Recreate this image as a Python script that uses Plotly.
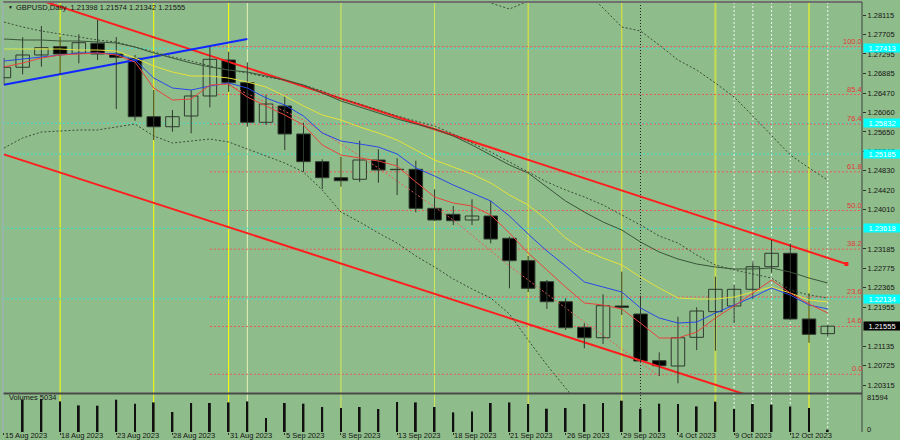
import plotly.graph_objects as go

# ---------------- data ----------------
dates = ["15 Aug 2023", "16 Aug 2023", "17 Aug 2023", "18 Aug 2023",
         "21 Aug 2023", "22 Aug 2023", "23 Aug 2023", "24 Aug 2023", "25 Aug 2023",
         "28 Aug 2023", "29 Aug 2023", "30 Aug 2023", "31 Aug 2023", "1 Sep 2023",
         "4 Sep 2023", "5 Sep 2023", "6 Sep 2023", "7 Sep 2023", "8 Sep 2023",
         "11 Sep 2023", "12 Sep 2023", "13 Sep 2023", "14 Sep 2023", "15 Sep 2023",
         "18 Sep 2023", "19 Sep 2023", "20 Sep 2023", "21 Sep 2023", "22 Sep 2023",
         "25 Sep 2023", "26 Sep 2023", "27 Sep 2023", "28 Sep 2023", "29 Sep 2023",
         "2 Oct 2023", "3 Oct 2023", "4 Oct 2023", "5 Oct 2023", "6 Oct 2023",
         "9 Oct 2023", "10 Oct 2023", "11 Oct 2023", "12 Oct 2023", "13 Oct 2023",
         "16 Oct 2023"]

open_ = [1.26793, 1.27013, 1.27272, 1.27447, 1.27308, 1.27518, 1.27293, 1.27202, 1.25971,
         1.25760, 1.25986, 1.26408, 1.27166, 1.26688, 1.25853, 1.26197, 1.25607, 1.25023,
         1.24685, 1.24652, 1.25058, 1.24862, 1.24862, 1.24040, 1.23914, 1.23794, 1.23878,
         1.23408, 1.22936, 1.22493, 1.22071, 1.21532, 1.21312, 1.21981, 1.21812, 1.20828,
         1.20716, 1.21321, 1.21861, 1.21981, 1.22333, 1.22809, 1.23092, 1.21707, 1.21398]
high = [1.27209, 1.27645, 1.27883, 1.27658, 1.27708, 1.28010, 1.27651, 1.27272, 1.26534,
        1.26112, 1.26534, 1.27445, 1.27341, 1.27118, 1.26429, 1.26393, 1.25845, 1.25073,
        1.25128, 1.25465, 1.25284, 1.25094, 1.25044, 1.24441, 1.24089, 1.24230, 1.24200,
        1.23442, 1.23035, 1.22529, 1.22143, 1.21616, 1.22227, 1.22704, 1.22198, 1.21005,
        1.21755, 1.21953, 1.22598, 1.22423, 1.22915, 1.23372, 1.23302, 1.22248, 1.21574]
low = [1.26639, 1.26865, 1.27025, 1.26871, 1.27097, 1.27166, 1.26133, 1.25887, 1.25480,
       1.25655, 1.25621, 1.26169, 1.26498, 1.25760, 1.25796, 1.25269, 1.24812, 1.24447,
       1.24496, 1.24595, 1.24580, 1.24321, 1.23956, 1.23772, 1.23688, 1.23688, 1.23302,
       1.22354, 1.22276, 1.21917, 1.21475, 1.21089, 1.21180, 1.21791, 1.20794, 1.20505,
       1.20351, 1.21053, 1.21038, 1.21616, 1.22122, 1.22683, 1.21686, 1.21207, 1.21342]
close = [1.27013, 1.27272, 1.27426, 1.27293, 1.27531, 1.27293, 1.27223, 1.25971, 1.25760,
         1.25971, 1.26408, 1.27181, 1.26688, 1.25853, 1.26239, 1.25607, 1.25023, 1.24685,
         1.24622, 1.25058, 1.24848, 1.24856, 1.24040, 1.23794, 1.23779, 1.23878, 1.23393,
         1.22936, 1.22354, 1.22071, 1.21523, 1.21312, 1.21987, 1.21953, 1.20821, 1.20722,
         1.21312, 1.21875, 1.22333, 1.22333, 1.22809, 1.23092, 1.21707, 1.21384, 1.21555]
volume = [None, 71222, 72765, 67473, 58653, 57992, 71222, 62402, 65268, 44100, 63945,
          63945, 65268, 67473, 30870, 63945, 62402, 55125, 52920, 55125, 50715, 66150,
          65268, 55125, 43218, 45423, 63945, 65268, 61740, 51377, 52920, 61740, 63945,
          69017, 51377, 62402, 61740, 56448, 66812, 50715, 61740, 60197, 56448, 52920, 5034]

ma_red = [1.27019, 1.27103, 1.27208, 1.27272, 1.27293, 1.27314, 1.27272, 1.27124, 1.26576,
          1.26323, 1.26344, 1.26639, 1.26660, 1.26386, 1.26197, 1.26007, 1.25796, 1.25375,
          1.25164, 1.25101, 1.25037, 1.24932, 1.24595, 1.24279, 1.24152, 1.24089, 1.23899,
          1.23519, 1.23098, 1.22740, 1.22381, 1.22044, 1.22002, 1.21918, 1.21622, 1.21306,
          1.21306, 1.21432, 1.21728, 1.21981, 1.22255, 1.22529, 1.22255, 1.22023, 1.21833]
ma_blue = [1.27145, 1.27187, 1.27229, 1.27272, 1.27314, 1.27314, 1.27293, 1.27166, 1.26787,
           1.26576, 1.26534, 1.26618, 1.26681, 1.26576, 1.26365, 1.26218, 1.25986, 1.25628,
           1.25459, 1.25396, 1.25332, 1.25185, 1.24890, 1.24721, 1.24531, 1.24363, 1.24194,
           1.23878, 1.23498, 1.23140, 1.22824, 1.22487, 1.22381, 1.22276, 1.21939, 1.21728,
           1.21622, 1.21643, 1.21833, 1.22002, 1.22170, 1.22360, 1.22212, 1.22002, 1.21918]
ma_yellow = [1.27398, 1.27398, 1.27398, 1.27398, 1.27377, 1.27377, 1.27356, 1.27208, 1.27040,
             1.26913, 1.26829, 1.26829, 1.26787, 1.26702, 1.26597, 1.26407, 1.26197, 1.26007,
             1.25901, 1.25754, 1.25628, 1.25480, 1.25269, 1.25058, 1.24911, 1.24763, 1.24573,
             1.24321, 1.24110, 1.23793, 1.23414, 1.23161, 1.22992, 1.22845, 1.22592, 1.22360,
             1.22149, 1.22128, 1.22128, 1.22170, 1.22276, 1.22381, 1.22255, 1.22107, 1.22065]
ma_slow = [1.27609, 1.27588, 1.27588, 1.27567, 1.27567, 1.27546, 1.27525, 1.27440, 1.27314,
           1.27208, 1.27103, 1.27019, 1.26955, 1.26913, 1.26829, 1.26745, 1.26639, 1.26471,
           1.26302, 1.26175, 1.26049, 1.25923, 1.25817, 1.25712, 1.25564, 1.25375, 1.25164,
           1.24953, 1.24784, 1.24489, 1.24194, 1.23962, 1.23751, 1.23583, 1.23330, 1.23119,
           1.22971, 1.22866, 1.22803, 1.22761, 1.22761, 1.22782, 1.22697, 1.22571, 1.22465]
band_mid = [1.27967, 1.27862, 1.27778, 1.27714, 1.27651, 1.27588, 1.27546, 1.27440, 1.27335,
            1.27229, 1.27145, 1.27040, 1.26955, 1.26892, 1.26808, 1.26745, 1.26639, 1.26513,
            1.26344, 1.26239, 1.26112, 1.25986, 1.25880, 1.25775, 1.25607, 1.25417, 1.25227,
            1.25016, 1.24805, 1.24595, 1.24426, 1.24279, 1.24110, 1.23899, 1.23688, 1.23456,
            1.23308, 1.23056, 1.22845, 1.22740, 1.22655, 1.22571, 1.22318, 1.22212, 1.22149]
band_up = [None] * 24 + [1.28958, 1.28600, 1.28368, 1.28241, 1.28410, 1.28684, 1.28853,
                         1.28642, 1.28262, 1.27862, 1.27778, 1.27482, 1.27166, 1.26955,
                         1.26681, 1.26386, 1.25986, 1.25585, 1.25164, 1.24890, 1.24637]
band_low = [1.25311, 1.25522, 1.25649, 1.25670, 1.25691, 1.25691, 1.25754, 1.25817, 1.25564,
            1.25417, 1.25459, 1.25501, 1.25438, 1.25290, 1.25143, 1.24995, 1.24805, 1.24426,
            1.23962, 1.23751, 1.23519, 1.23308, 1.23035, 1.22803, 1.22550, 1.22339, 1.22149,
            1.21812, 1.21264, 1.20737, 1.20252, 1.19788, 1.19472] + [None] * 12

red_dash_x = [12, 16, 20, 24, 27, 31, 35]
red_dash_y = [1.26639, 1.25901, 1.24890, 1.23793, 1.22824, 1.21643, 1.20505]

chan_up_x, chan_up_y = [0, 45], [1.28678, 1.22866]
chan_low_x, chan_low_y = [0, 45], [1.25176, 1.19426]
blue_tl_x, blue_tl_y = [0, 13], [1.26644, 1.27609]

fib_levels = [1.27447, 1.26439, 1.25817, 1.24809, 1.23994, 1.23179, 1.22171, 1.21549, 1.20541]
fib_names = ["100.0", "85.4", "76.4", "61.8", "50.0", "38.2", "23.6", "14.6", "0.0"]
cyan_levels = [1.27413, 1.25832, 1.25185, 1.23618, 1.22134]

price_ticks = [1.28115, 1.27705, 1.27295, 1.26885, 1.26470, 1.26060, 1.25650, 1.25240,
               1.24830, 1.24420, 1.24010, 1.23185, 1.22775, 1.22365, 1.21955, 1.21135,
               1.20725, 1.20315]
vol_max = 81594

label_idx = list(range(0, 45, 3))
yellow_bars = [3, 8, 12]
olive_bars = [18, 23]
yellow2_bars = [28, 33]
green_yellow_bars = [38, 43]
pale_bars = [13]
black_dot_bars = [34]
white_dot_bars = [39, 40, 41, 42, 44]

# ---------------- figure ----------------
BG = "#8fbc8b"
FONT = "Liberation Sans, Arial, sans-serif"
TXT = "#151515"
n = len(dates)
idx = list(range(n))
XR = [-0.05, 45.83]
YR = [1.20147, 1.28389]

fig = go.Figure()

# trend lines (behind candles)
fig.add_trace(go.Scatter(x=chan_up_x, y=chan_up_y, mode="lines",
                         line=dict(color="#ff1e1e", width=2), hoverinfo="skip"))
fig.add_trace(go.Scatter(x=chan_low_x, y=chan_low_y, mode="lines",
                         line=dict(color="#ff1e1e", width=2), hoverinfo="skip"))
fig.add_trace(go.Scatter(x=blue_tl_x, y=blue_tl_y, mode="lines",
                         line=dict(color="#1028ff", width=2), hoverinfo="skip"))
fig.add_trace(go.Scatter(x=[chan_up_x[1]], y=[chan_up_y[1]], mode="markers",
                         marker=dict(symbol="square", size=4, color="#ff1e1e"), hoverinfo="skip"))
fig.add_trace(go.Scatter(x=red_dash_x, y=red_dash_y, mode="lines",
                         line=dict(color="#e85a5a", width=1, dash="2px,2px"), hoverinfo="skip"))

# wicks
wx, wy = [], []
for i in idx:
    wx += [i, i, None]
    wy += [low[i], high[i], None]
fig.add_trace(go.Scatter(x=wx, y=wy, mode="lines", line=dict(color="#2e3a2e", width=1),
                         hoverinfo="skip"))

# bodies
bull = [i for i in idx if close[i] >= open_[i]]
bear = [i for i in idx if close[i] < open_[i]]
fig.add_trace(go.Bar(x=bull, base=[open_[i] for i in bull],
                     y=[max(close[i] - open_[i], 0.00003) for i in bull],
                     width=0.72, marker=dict(color=BG, line=dict(color="#2e3a2e", width=1)),
                     hoverinfo="skip"))
fig.add_trace(go.Bar(x=bear, base=[close[i] for i in bear],
                     y=[max(open_[i] - close[i], 0.00003) for i in bear],
                     width=0.72, marker=dict(color="#000000", line=dict(color="#2e3a2e", width=1)),
                     hoverinfo="skip"))

# indicator lines
fig.add_trace(go.Scatter(x=idx, y=band_up, mode="lines",
                         line=dict(color="#3c4c3c", width=1, dash="2px,2px"), hoverinfo="skip"))
fig.add_trace(go.Scatter(x=idx, y=band_low, mode="lines",
                         line=dict(color="#3c4c3c", width=1, dash="2px,2px"), hoverinfo="skip"))
fig.add_trace(go.Scatter(x=idx, y=band_mid, mode="lines",
                         line=dict(color="#3c4c3c", width=1, dash="2px,2px"), hoverinfo="skip"))
fig.add_trace(go.Scatter(x=idx, y=ma_slow, mode="lines",
                         line=dict(color="#3a553a", width=1), hoverinfo="skip"))
fig.add_trace(go.Scatter(x=idx, y=ma_yellow, mode="lines",
                         line=dict(color="#e6e23c", width=1), hoverinfo="skip"))
fig.add_trace(go.Scatter(x=idx, y=ma_blue, mode="lines",
                         line=dict(color="#2848e8", width=1), hoverinfo="skip"))
fig.add_trace(go.Scatter(x=idx, y=ma_red, mode="lines",
                         line=dict(color="#e8443c", width=1), hoverinfo="skip"))

# volumes
fig.add_trace(go.Bar(x=idx, y=volume, width=0.1, marker=dict(color="#111111", line=dict(width=0)),
                     xaxis="x2", yaxis="y2", hoverinfo="skip"))

shapes = []


def vline(b, color, dash=None, width=1):
    shapes.append(dict(type="line", xref="x", yref="paper", x0=b, x1=b, y0=0, y1=1,
                       line=dict(color=color, width=width, dash=dash), layer="below"))


for b in yellow_bars:
    vline(b, "#ffff00")
for b in olive_bars:
    vline(b, "#d6e85a")
for b in yellow2_bars:
    vline(b, "#e8e830")
for b in green_yellow_bars:
    vline(b, "#c8dc50", width=2)
for b in pale_bars:
    vline(b, "#e6f2b8")
for b in black_dot_bars:
    vline(b, "#202020", dash="1px,2px")
for b in white_dot_bars:
    vline(b, "#f0f8f0", dash="2px,2px")

for lv in cyan_levels:
    shapes.append(dict(type="line", xref="x", yref="y", x0=XR[0], x1=XR[1], y0=lv, y1=lv,
                       line=dict(color="#3fe0d0", width=1, dash="2px,2px"), layer="below"))
for lv in fib_levels:
    shapes.append(dict(type="line", xref="x", yref="y", x0=11, x1=XR[1], y0=lv, y1=lv,
                       line=dict(color="#e85a5a", width=1, dash="2px,2px"), layer="below"))

# frame lines
pane_sep = (432 - 393.5) / 430
shapes.append(dict(type="line", xref="paper", yref="paper", x0=0, x1=1, y0=pane_sep, y1=pane_sep,
                   line=dict(color="#4a4a4a", width=2)))
shapes.append(dict(type="line", xref="paper", yref="paper", x0=0, x1=1, y0=1, y1=1,
                   line=dict(color="#707070", width=2)))
shapes.append(dict(type="line", xref="paper", yref="paper", x0=0, x1=0, y0=0, y1=1,
                   line=dict(color="#9fb0c4", width=1)))
shapes.append(dict(type="line", xref="paper", yref="paper", x0=1, x1=1, y0=0, y1=1,
                   line=dict(color="#404040", width=1)))

annotations = []
for lv, nm in zip(fib_levels, fib_names):
    annotations.append(dict(xref="paper", yref="y", x=1, y=lv, xanchor="right", yanchor="bottom",
                            xshift=2, yshift=-1, text=nm, showarrow=False,
                            font=dict(family=FONT, size=7.5, color="#e03a3a")))
for lv in cyan_levels:
    annotations.append(dict(xref="paper", yref="y", x=1, y=lv, xanchor="left", yanchor="middle",
                            xshift=1, text=f"{lv:.5f}", showarrow=False, bgcolor="#00ffff",
                            width=36, height=8, borderpad=0,
                            font=dict(family=FONT, size=7.5, color="#ffffff")))
annotations.append(dict(xref="paper", yref="y", x=1, y=close[-1], xanchor="left", yanchor="middle",
                        xshift=1, text=f"{close[-1]:.5f}", showarrow=False, bgcolor="#000000",
                        width=36, height=8, borderpad=0,
                        font=dict(family=FONT, size=7.5, color="#ffffff")))
for i in label_idx:
    annotations.append(dict(xref="x2", yref="paper", x=i, y=0, xanchor="left", yanchor="top",
                            xshift=0, yshift=2, borderpad=0, text=dates[i], showarrow=False,
                            font=dict(family=FONT, size=7.5, color=TXT)))
annotations.append(dict(xref="paper", yref="paper", x=0, y=1, xanchor="left", yanchor="top",
                        xshift=3, yshift=0, text="▼", showarrow=False,
                        font=dict(family=FONT, size=5, color=TXT)))
annotations.append(dict(xref="paper", yref="paper", x=0, y=1, xanchor="left", yanchor="top",
                        xshift=11, yshift=1,
                        text=f"GBPUSD,Daily  {open_[-1]:.5f} {high[-1]:.5f} {low[-1]:.5f} {close[-1]:.5f}",
                        showarrow=False, font=dict(family=FONT, size=7.5, color=TXT)))
annotations.append(dict(xref="paper", yref="paper", x=0, y=(432 - 397) / 430, xanchor="left",
                        yanchor="middle", xshift=4, text=f"Volumes {volume[-1]}", showarrow=False,
                        font=dict(family=FONT, size=7.5, color=TXT)))
annotations.append(dict(xref="paper", yref="paper", x=1, y=(432 - 397) / 430, xanchor="left",
                        yanchor="middle", xshift=3, text=str(vol_max), showarrow=False,
                        font=dict(family=FONT, size=7.5, color=TXT)))
annotations.append(dict(xref="paper", yref="paper", x=1, y=(432 - 429) / 430, xanchor="left",
                        yanchor="middle", xshift=3, text="0", showarrow=False,
                        font=dict(family=FONT, size=7.5, color=TXT)))

fig.update_layout(
    width=900, height=440,
    margin=dict(l=3, r=38, t=2, b=8),
    paper_bgcolor=BG, plot_bgcolor=BG,
    showlegend=False, barmode="overlay", hovermode=False,
    font=dict(family=FONT, size=7.5, color=TXT),
    shapes=shapes, annotations=annotations,
    xaxis=dict(domain=[0, 1], range=XR, anchor="y", showticklabels=False, showgrid=False,
               zeroline=False, showline=False, fixedrange=True),
    yaxis=dict(domain=[(432 - 393) / 430, 1], range=YR, side="right", anchor="x",
               tickvals=price_ticks, ticktext=[f"{v:.5f}" for v in price_ticks],
               ticks="outside", ticklen=3, tickcolor="#303030", showgrid=False, zeroline=False,
               showline=False, tickfont=dict(family=FONT, size=7.5, color=TXT)),
    xaxis2=dict(domain=[0, 1], range=XR, anchor="y2", matches="x", showticklabels=False,
                tickvals=label_idx, ticks="outside", ticklen=2, tickcolor="#303030",
                showgrid=False, zeroline=False, showline=False),
    yaxis2=dict(domain=[0, 37 / 430], range=[0, vol_max], side="right", anchor="x2",
                showticklabels=False, showgrid=False, zeroline=False, showline=False,
                ticks=""),
)

fig.write_html("out.html", config={"displayModeBar": False},
               post_script="document.body.style.margin='0px';document.body.style.overflow='hidden';")
